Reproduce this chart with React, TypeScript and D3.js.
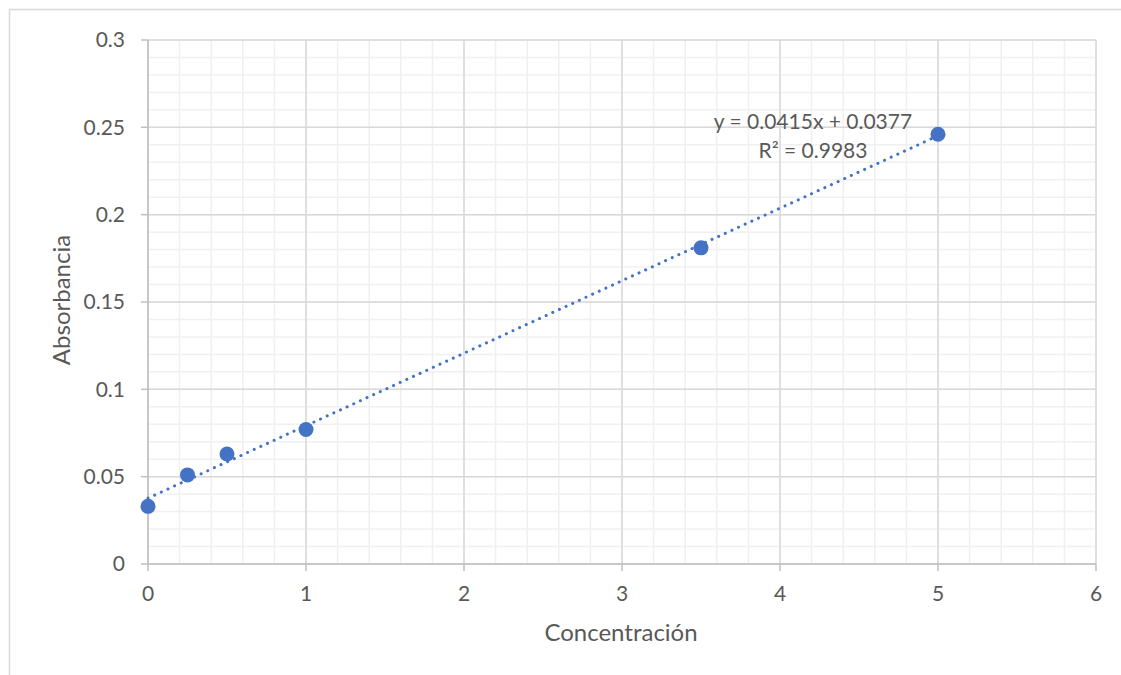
import React from "react";
import * as d3 from "d3";

const concentration = [0, 0.25, 0.5, 1, 3.5, 5];
const absorbance = [0.033, 0.051, 0.063, 0.077, 0.181, 0.246];
const xTicks = [0, 1, 2, 3, 4, 5, 6];
const yTicks = [0, 0.05, 0.1, 0.15, 0.2, 0.25, 0.3];
const yTickLabels = ["0", "0.05", "0.1", "0.15", "0.2", "0.25", "0.3"];
const slope = 0.0415;
const intercept = 0.0377;
const equationLabel = "y = 0.0415x + 0.0377";
const r2Label = "R² = 0.9983";
const xTitle = "Concentración";
const yTitle = "Absorbancia";

const W = 1121;
const H = 675;
const FONT = "Lato, 'Open Sans', sans-serif";
const TXT = "#595959";
const BLUE = "#4472c4";

export default function App() {
  const x = d3.scaleLinear().domain([0, 6]).range([148, 1096]);
  const y = d3.scaleLinear().domain([0, 0.3]).range([564, 40]);
  const xMinor = d3.range(0, 6.0001, 0.2);
  const yMinor = d3.range(0, 0.30001, 0.01);
  const trend = d3.line<number>().x((d) => x(d)).y((d) => y(slope * d + intercept));
  const trendX = [0, 5];

  return (
    <svg width={W} height={H} style={{ position: "absolute", left: 0, top: 0, background: "#fff" }} fontFamily={FONT}>
      <rect x={0} y={0} width={W} height={H} fill="#fff" />
      <rect x={9.5} y={9.5} width={W + 20} height={H + 20} fill="none" stroke="#d9d9d9" strokeWidth={1.5} />
      {xMinor.map((v, i) => (
        <line key={"xm" + i} x1={x(v)} x2={x(v)} y1={y(0)} y2={y(0.3)} stroke="#f0f0f0" strokeWidth={1.5} />
      ))}
      {yMinor.map((v, i) => (
        <line key={"ym" + i} x1={x(0)} x2={x(6)} y1={y(v)} y2={y(v)} stroke="#f0f0f0" strokeWidth={1.5} />
      ))}
      {xTicks.map((v) => (
        <line key={"xM" + v} x1={x(v)} x2={x(v)} y1={y(0)} y2={y(0.3)} stroke="#d9d9d9" strokeWidth={1.5} />
      ))}
      {yTicks.map((v) => (
        <line key={"yM" + v} x1={x(0)} x2={x(6)} y1={y(v)} y2={y(v)} stroke="#d9d9d9" strokeWidth={1.5} />
      ))}
      <line x1={x(0)} x2={x(0)} y1={y(0)} y2={y(0.3)} stroke="#bfbfbf" strokeWidth={1.5} />
      <line x1={x(0)} x2={x(6)} y1={y(0)} y2={y(0)} stroke="#bfbfbf" strokeWidth={1.5} />
      {yTicks.map((v) => (
        <line key={"yt" + v} x1={x(0) - 7} x2={x(0)} y1={y(v)} y2={y(v)} stroke="#bfbfbf" strokeWidth={1.5} />
      ))}
      {xTicks.map((v) => (
        <line key={"xt" + v} x1={x(v)} x2={x(v)} y1={y(0)} y2={y(0) + 7} stroke="#bfbfbf" strokeWidth={1.5} />
      ))}
      {yTicks.map((v, i) => (
        <text key={"yl" + v} x={125} y={y(v)} dy="0.35em" textAnchor="end" fontSize={21} fill={TXT}>
          {yTickLabels[i]}
        </text>
      ))}
      {xTicks.map((v) => (
        <text key={"xl" + v} x={x(v)} y={594} dy="0.35em" textAnchor="middle" fontSize={21} fill={TXT}>
          {v}
        </text>
      ))}
      <text x={621} y={633} dy="0.35em" textAnchor="middle" fontSize={24} fill={TXT}>
        {xTitle}
      </text>
      <text transform={`translate(62,${300}) rotate(-90)`} dy="0.35em" textAnchor="middle" fontSize={24} fill={TXT}>
        {yTitle}
      </text>
      <path d={trend(trendX) || ""} fill="none" stroke={BLUE} strokeWidth={3} strokeLinecap="round" strokeDasharray="0.1 7.2" />
      {concentration.map((c, i) => (
        <circle key={"p" + i} cx={x(c)} cy={y(absorbance[i])} r={7.5} fill={BLUE} />
      ))}
      <text x={813} y={122} dy="0.35em" textAnchor="middle" fontSize={21} fill={TXT}>
        {equationLabel}
      </text>
      <text x={813} y={151} dy="0.35em" textAnchor="middle" fontSize={21} fill={TXT}>
        {r2Label}
      </text>
    </svg>
  );
}
